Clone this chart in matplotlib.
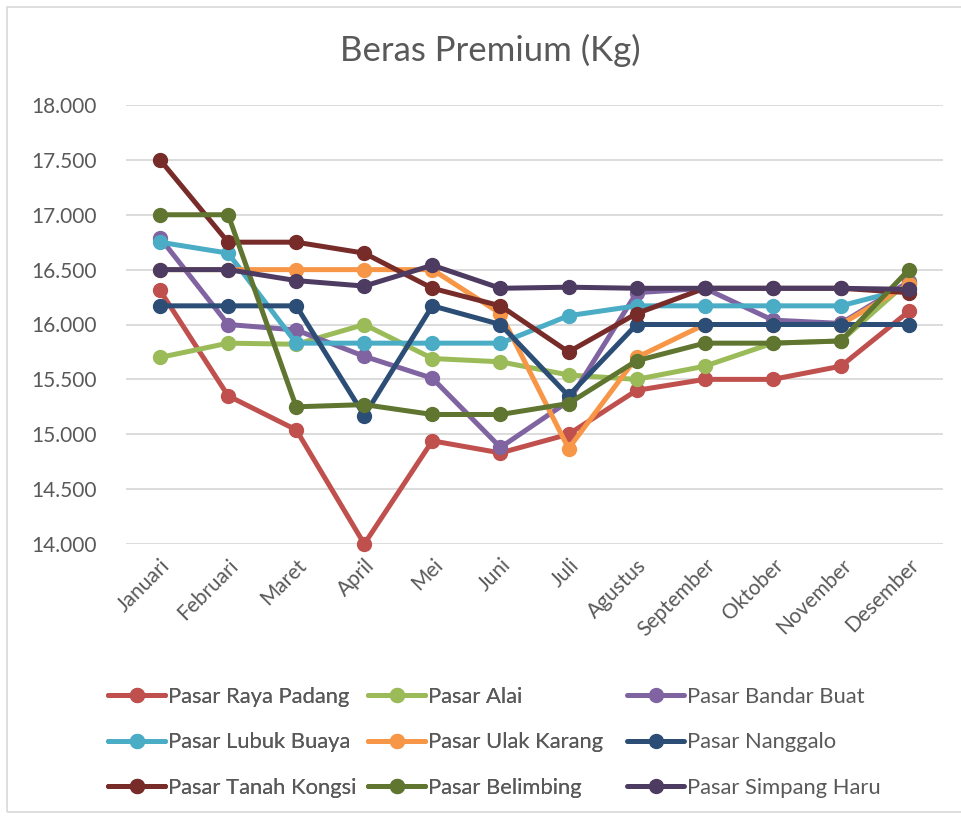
import matplotlib
matplotlib.use("Agg")
import matplotlib.pyplot as plt
from matplotlib.ticker import FuncFormatter
from matplotlib.patches import Rectangle

plt.rcParams['font.family'] = ['Lato', 'DejaVu Sans']

months = ["Januari", "Februari", "Maret", "April", "Mei", "Juni", "Juli",
          "Agustus", "September", "Oktober", "November", "Desember"]

raya_padang = [16310, 15350, 15040, 14000, 14940, 14830, 15000, 15400, 15500, 15500, 15620, 16120]
alai = [15700, 15830, 15820, 16000, 15690, 15660, 15540, 15500, 15620, 15830, 15850, 16400]
bandar_buat = [16790, 16000, 15950, 15710, 15510, 14880, 15300, 16290, 16330, 16040, 16010, 16390]
lubuk_buaya = [16750, 16650, 15830, 15830, 15830, 15830, 16080, 16170, 16170, 16170, 16170, 16330]
ulak_karang = [16500, 16500, 16500, 16500, 16500, 16100, 14870, 15700, 16000, 16000, 16000, 16370]
nanggalo = [16170, 16170, 16170, 15170, 16170, 16000, 15350, 16000, 16000, 16000, 16000, 16000]
tanah_kongsi = [17500, 16750, 16750, 16650, 16330, 16170, 15750, 16100, 16330, 16330, 16330, 16290]
belimbing = [17000, 17000, 15250, 15270, 15180, 15180, 15280, 15670, 15830, 15830, 15850, 16500]
simpang_haru = [16500, 16500, 16400, 16350, 16540, 16330, 16340, 16330, 16330, 16330, 16330, 16320]

series_names = ["Pasar Raya Padang", "Pasar Alai", "Pasar Bandar Buat",
                "Pasar Lubuk Buaya", "Pasar Ulak Karang", "Pasar Nanggalo",
                "Pasar Tanah Kongsi", "Pasar Belimbing", "Pasar Simpang Haru"]
series_values = [raya_padang, alai, bandar_buat, lubuk_buaya, ulak_karang,
                 nanggalo, tanah_kongsi, belimbing, simpang_haru]
colors = ["#C0504D", "#9BBB59", "#8064A2", "#4BACC6", "#F79646",
          "#2C4D75", "#772C2A", "#5F7530", "#4D3B62"]

y_ticks = [14000, 14500, 15000, 15500, 16000, 16500, 17000, 17500, 18000]

W, H = 962, 816
fig = plt.figure(figsize=(W / 100, H / 100), dpi=100)
fig.patches.append(Rectangle((7 / W, 4 / H), (W + 10) / W, (H - 11) / H,
                             transform=fig.transFigure, fill=False,
                             edgecolor="#D9D9D9", linewidth=1.2))

ax = fig.add_axes([126 / W, 1 - 544 / H, (943 - 126) / W, (544 - 105) / H])
x = list(range(len(months)))
handles = []
for name, vals, c in zip(series_names, series_values, colors):
    h, = ax.plot(x, vals, color=c, linewidth=3.6, marker='o', markersize=10,
                 label=name, solid_capstyle='round', solid_joinstyle='round',
                 clip_on=False)
    handles.append(h)

ax.set_xlim(-0.5, len(months) - 0.5)
ax.set_ylim(14000, 18000)
ax.set_yticks(y_ticks)
ax.yaxis.set_major_formatter(FuncFormatter(lambda v, p: f"{int(v):,}".replace(",", ".")))
ax.set_xticks(x)
ax.set_xticklabels(months, rotation=45, ha='right', va='top', rotation_mode='anchor')
ax.grid(axis='y', color="#D9D9D9", linewidth=1.3)
ax.set_axisbelow(True)
for s in ax.spines.values():
    s.set_visible(False)
ax.tick_params(axis='both', length=0, colors="#595959", labelsize=15)
ax.tick_params(axis='y', pad=21)
ax.tick_params(axis='x', pad=8)

fig.text(490 / W, 1 - 50 / H, "Beras Premium (Kg)", ha='center', va='center',
         fontsize=25, color="#595959")

col_x = [108, 368, 627]
for ci in range(3):
    hs = handles[ci::3]
    leg = fig.legend(handles=hs, labels=[h.get_label() for h in hs],
                     loc='upper left', bbox_to_anchor=(col_x[ci] / W, 1 - 687 / H),
                     frameon=False, fontsize=15.8, handlelength=2.6,
                     handletextpad=0.14, labelspacing=1.16, labelcolor="#595959",
                     borderaxespad=0, borderpad=0)
    if ci < 2:
        fig.add_artist(leg)

fig.savefig("out.png", dpi=100)
